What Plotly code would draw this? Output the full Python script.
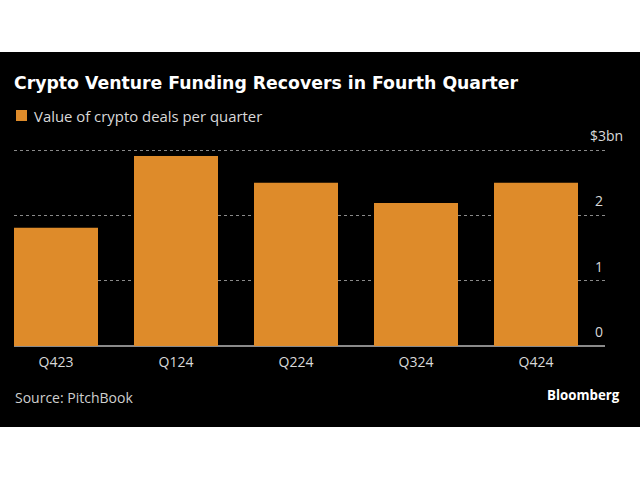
import plotly.graph_objects as go

quarters = ["Q423", "Q124", "Q224", "Q324", "Q424"]
values = [1.81, 2.91, 2.50, 2.19, 2.50]
tick_vals = [0, 1, 2, 3]
tick_text = ["0", "1", "2", "$3bn"]
series_name = "Value of crypto deals per quarter"

W, H = 640, 480
def px(x):
    return x / W
def py(y):
    return 1 - y / H

BAR = "#DE8B2A"
FONT = "Open Sans"

fig = go.Figure()
fig.add_trace(go.Bar(
    x=quarters, y=values, marker_color=BAR, marker_line_width=0,
    name=series_name, showlegend=False,
))

y_top = 3.05
unit = 65.33
zero_px = 346
top_px = zero_px - y_top * unit

fig.update_layout(
    width=W, height=H,
    margin=dict(l=0, r=0, t=0, b=0),
    paper_bgcolor="white",
    plot_bgcolor="black",
    bargap=0.3,
    font=dict(family=FONT, color="#d9d9d9", size=14),
    xaxis=dict(
        domain=[px(14), px(605)],
        range=[-0.35, 4.575],
        showgrid=False, zeroline=False, showline=False,
        ticks="", tickfont=dict(size=14, color="#d9d9d9"),
        ticklabelstandoff=6,
        fixedrange=True,
    ),
    yaxis=dict(
        domain=[py(zero_px), py(top_px)],
        range=[0, y_top],
        tickvals=tick_vals, showticklabels=False,
        showgrid=True, gridcolor="#8a8a8a", griddash="dot", gridwidth=1,
        zeroline=True, zerolinecolor="#8a8a8a", zerolinewidth=1.5,
        showline=False,
    ),
    showlegend=False,
)

# black panel
fig.add_shape(type="rect", xref="paper", yref="paper",
              x0=0, x1=1, y0=py(427), y1=py(52),
              fillcolor="black", line_width=0, layer="below")

# legend swatch + label
fig.add_shape(type="rect", xref="paper", yref="paper",
              x0=px(16), x1=px(27), y0=py(121), y1=py(110),
              fillcolor=BAR, line_width=0)
fig.add_annotation(xref="paper", yref="paper", x=px(32), y=py(116),
                   text=series_name, showarrow=False, xanchor="left", yanchor="middle",
                   font=dict(size=14.9, color="#d9d9d9", family=FONT))

# y tick labels (above gridlines, right side)
for v, t in zip(tick_vals, tick_text):
    xr = 625 if t.endswith("bn") else 605
    fig.add_annotation(xref="paper", yref="y", x=px(xr), y=v,
                       text=t, showarrow=False, xanchor="right", yanchor="bottom",
                       yshift=3, font=dict(size=14, color="#d9d9d9", family=FONT))

fig.add_annotation(xref="paper", yref="paper", x=px(12), y=py(83),
                   text="<b>Crypto Venture Funding Recovers in Fourth Quarter</b>",
                   showarrow=False, xanchor="left", yanchor="middle",
                   font=dict(size=17.3, color="white", family="DejaVu Sans"))
fig.add_annotation(xref="paper", yref="paper", x=px(13), y=py(397),
                   text="Source: PitchBook",
                   showarrow=False, xanchor="left", yanchor="middle",
                   font=dict(size=14, color="#cfcfcf", family=FONT))
fig.add_annotation(xref="paper", yref="paper", x=px(622), y=py(395),
                   text="<b>Bloomberg</b>",
                   showarrow=False, xanchor="right", yanchor="middle",
                   font=dict(size=13.3, color="white", family=FONT))

fig.write_html("out.html")
